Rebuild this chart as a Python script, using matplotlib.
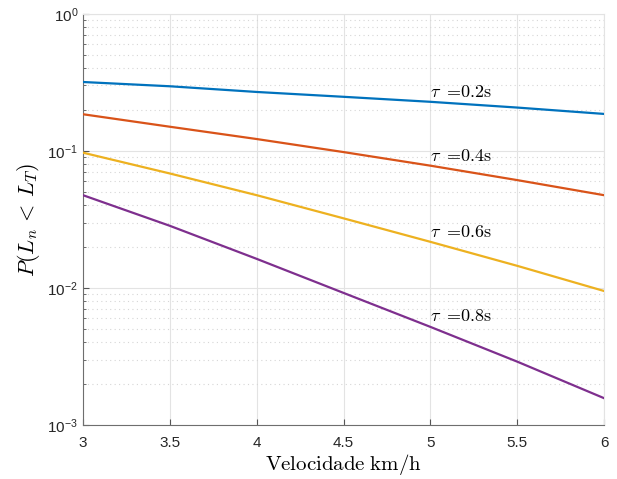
import matplotlib
matplotlib.use('Agg')
import matplotlib.pyplot as plt
from matplotlib.ticker import LogLocator, NullFormatter, FixedLocator

plt.rcParams['font.family'] = ['Liberation Sans', 'DejaVu Sans']
plt.rcParams['mathtext.fontset'] = 'custom'
plt.rcParams['mathtext.rm'] = 'Liberation Sans'
plt.rcParams['mathtext.it'] = 'Liberation Sans:italic'

# velocity (km/h) and probability
velocidade = [3.0, 3.5, 4.0, 4.5, 5.0, 5.5, 6.0]
p_tau_02 = [0.318, 0.296, 0.269, 0.248, 0.228, 0.207, 0.186]
p_tau_04 = [0.185, 0.150, 0.122, 0.098, 0.0780, 0.0612, 0.0475]
p_tau_06 = [0.097, 0.0684, 0.0475, 0.0322, 0.0217, 0.0145, 0.0095]
p_tau_08 = [0.0475, 0.0284, 0.0163, 0.0092, 0.0052, 0.0029, 0.00157]

series = [p_tau_02, p_tau_04, p_tau_06, p_tau_08]
labels = ['0.2s', '0.4s', '0.6s', '0.8s']
label_x = [5.0, 5.0, 5.0, 5.0]
label_y = [0.265, 0.0904, 0.0254, 0.00616]
colors = ['#0072BD', '#D95319', '#EDB120', '#7E2F8E']

fig = plt.figure(figsize=(6.17, 4.79), dpi=100)
ax = fig.add_axes([0.1345, 0.1127, 0.8445, 0.8585])

for vals, c in zip(series, colors):
    ax.plot(velocidade, vals, color=c, linewidth=1.6, zorder=3)

for lx, ly, lab in zip(label_x, label_y, labels):
    ax.text(lx, ly, r'$\tau\ =\!\mathrm{' + lab + '}$', fontsize=13, ha='left', va='center',
            math_fontfamily='cm')

ax.set_yscale('log')
ax.set_xlim(3, 6)
ax.set_ylim(1e-3, 1)
ax.xaxis.set_major_locator(FixedLocator([3, 3.5, 4, 4.5, 5, 5.5, 6]))
ax.set_xticklabels(['3', '3.5', '4', '4.5', '5', '5.5', '6'])
ax.yaxis.set_major_locator(LogLocator(base=10, numticks=10))
ax.yaxis.set_minor_locator(LogLocator(base=10, subs=range(2, 10), numticks=20))
ax.yaxis.set_minor_formatter(NullFormatter())

ax.grid(True, which='major', color='#e3e3e3', linewidth=0.8, linestyle='-')
ax.grid(True, which='minor', axis='y', color='#d6d6d6', linewidth=0.8, linestyle=(0, (1, 3)))

ax.tick_params(which='both', direction='in', colors='#555555', labelcolor='#262626',
               labelsize=11, top=False, right=False)
ax.tick_params(which='major', length=4)
ax.tick_params(which='minor', length=2.5)
ax.tick_params(axis='x', pad=8)

for side in ['left', 'bottom']:
    ax.spines[side].set_color('#6e6e6e')
for side in ['top', 'right']:
    ax.spines[side].set_color('#e3e3e3')

ax.set_xlabel(r'$\mathrm{Velocidade\ km/h}$', fontsize=15, math_fontfamily='cm', labelpad=1)
ax.set_ylabel(r'$P(L_n\,<\,L_T)$', fontsize=16, math_fontfamily='cm')

plt.savefig('out.png', dpi=100)
